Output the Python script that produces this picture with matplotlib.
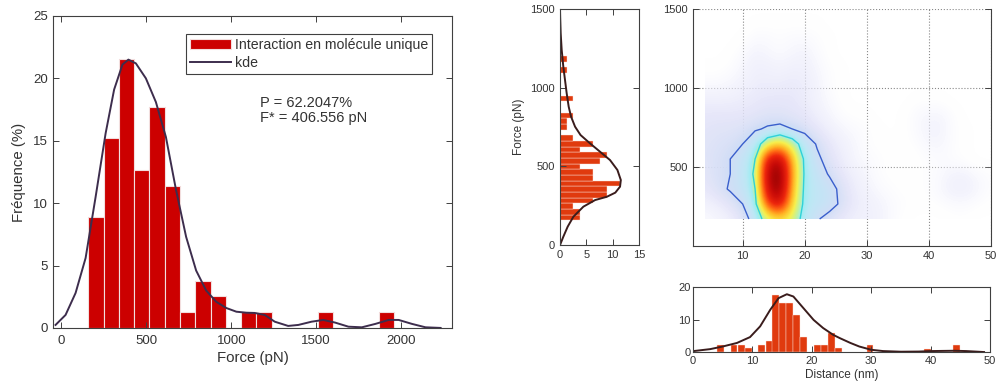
import numpy as np
import matplotlib
matplotlib.use('Agg')
import matplotlib.pyplot as plt
from matplotlib.colors import LinearSegmentedColormap
from matplotlib.patches import Rectangle

plt.rcParams['font.family'] = ['Liberation Sans', 'DejaVu Sans']

# ---- left panel : force histogram (bins of 90 pN) and kde ----
force_centres = [203, 293, 383, 473, 563, 653, 743, 833, 923, 1013,
                 1103, 1193, 1283, 1373, 1463, 1553, 1643, 1733, 1823, 1913]
force_freq = [8.86, 15.19, 21.52, 12.66, 17.72, 11.39, 1.27, 3.80, 2.53, 0,
              1.27, 1.27, 0, 0, 0, 1.27, 0, 0, 0, 1.27]
kde_force = [-35, 24, 83, 142, 201, 260, 310, 359, 394, 438, 497, 556, 615,
             674, 734, 793, 852, 911, 970, 1030, 1089, 1138, 1197, 1256,
             1335, 1395, 1473, 1542, 1611, 1690, 1769, 1848, 1927, 1986,
             2065, 2144, 2233]
kde_freq = [0.24, 1.04, 2.8, 5.6, 10.5, 15.6, 19.1, 21.1, 21.5, 21.2, 20.0,
            18.1, 15.3, 11.1, 7.3, 4.6, 3.0, 2.1, 1.6, 1.3, 1.22, 1.2, 1.04,
            0.5, 0.16, 0.24, 0.5, 0.64, 0.43, 0.1, 0.05, 0.32, 0.64, 0.64,
            0.32, 0.05, 0.0]

# ---- middle panel : force histogram (bins of 36 pN), horizontal ----
mid_centres = [176, 212, 248, 284, 320, 356, 392, 428, 464, 500, 536, 572,
               608, 644, 680, 716, 752, 788, 824, 860, 896, 932, 968, 1004,
               1040, 1076, 1112, 1148, 1184]
mid_freq = [3.80, 3.80, 2.53, 6.33, 8.86, 8.86, 11.39, 6.33, 6.33, 3.80,
            7.59, 8.86, 3.80, 6.33, 2.53, 0, 1.27, 1.27, 2.53, 0, 0, 2.53,
            0, 0, 0, 0, 1.27, 0, 1.27]
mid_kde_f = [0, 53, 117, 180, 244, 286, 307, 333, 371, 413, 477, 540, 593,
             646, 699, 752, 816, 879, 964, 1049, 1133, 1240, 1345, 1451, 1500]
mid_kde_v = [0, 0.63, 1.46, 2.54, 4.44, 6.67, 8.9, 10.5, 11.4, 11.55, 10.9,
             9.5, 7.6, 5.7, 3.9, 2.86, 2.1, 1.65, 1.27, 0.95, 0.63, 0.32,
             0.13, 0.03, 0.0]

# ---- bottom panel : distance histogram and kde ----
dist_centres = [4.6, 6.9, 8.1, 9.3, 11.6, 12.8, 13.9, 15.1, 16.3, 17.5,
                18.6, 21.0, 22.1, 23.3, 24.5, 29.8, 39.5, 44.4]
dist_freq = [2.2, 2.2, 2.2, 1.1, 2.2, 3.4, 17.6, 15.0, 15.0, 11.3, 4.6,
             2.2, 2.2, 5.9, 1.1, 2.2, 0.9, 2.2]
kde_dist = [0.1, 2.9, 5.1, 7.4, 9.6, 11.3, 13.0, 14.4, 15.8, 16.9, 18.6,
            20.3, 21.9, 23.6, 24.7, 26.5, 28, 30, 32, 35, 38, 40, 44, 46,
            48, 49]
kde_dist_v = [0.3, 0.9, 1.75, 2.8, 4.6, 7.9, 13.0, 16.6, 17.8, 17.1, 13.5,
              9.9, 7.4, 5.3, 4.3, 2.8, 1.7, 0.7, 0.3, 0.1, 0.15, 0.3, 0.4,
              0.3, 0.1, 0.0]

# ---- top right : 2D density sampled every 2 nm / 95 pN ----
dens_dist = [4, 6, 8, 10, 12, 14, 16, 18, 20, 22, 24, 26, 28, 30, 32, 34,
             36, 38, 40, 42, 44, 46, 48, 50]
dens_force = [170, 265, 360, 455, 550, 645, 740, 835, 930, 1025, 1120,
              1215, 1310, 1405, 1500]
density = [
    [3, 4, 6, 10, 20, 38, 45, 40, 24, 16, 11, 8, 6, 6, 5, 3, 1, 0, 0, 0, 1, 1, 0, 0],
    [5, 7, 10, 15, 26, 70, 85, 50, 26, 22, 19, 13, 8, 6, 5, 3, 2, 1, 1, 2, 3, 3, 2, 1],
    [9, 12, 16, 20, 30, 85, 98, 55, 27, 22, 19, 12, 7, 5, 3, 2, 1, 1, 2, 4, 6, 6, 4, 2],
    [10, 13, 15, 21, 32, 88, 100, 58, 28, 20, 14, 9, 6, 4, 2, 1, 1, 1, 2, 3, 5, 5, 3, 2],
    [11, 13, 15, 20, 30, 80, 90, 55, 27, 17, 11, 7, 4, 3, 2, 1, 0, 1, 2, 3, 2, 1, 0, 0],
    [11, 12, 13, 15, 22, 40, 50, 38, 22, 14, 9, 6, 4, 2, 1, 1, 1, 2, 4, 4, 2, 1, 0, 0],
    [10, 11, 11, 12, 14, 16, 17, 15, 12, 9, 6, 4, 3, 2, 1, 0, 1, 3, 5, 5, 2, 1, 0, 0],
    [9, 9, 9, 9, 10, 11, 11, 10, 9, 6, 4, 2, 1, 1, 0, 0, 1, 3, 4, 4, 2, 0, 0, 0],
    [6, 6, 6, 7, 8, 9, 9, 9, 7, 5, 3, 1, 0, 0, 0, 0, 0, 1, 1, 1, 0, 0, 0, 0],
    [3, 3, 4, 5, 7, 7, 7, 8, 7, 5, 2, 1, 0, 0, 0, 0, 0, 0, 0, 0, 0, 0, 0, 0],
    [1, 1, 2, 4, 6, 6, 5, 6, 6, 4, 2, 1, 0, 0, 0, 0, 0, 0, 0, 0, 0, 0, 0, 0],
    [0, 0, 1, 3, 5, 4, 3, 4, 5, 3, 1, 0, 0, 0, 0, 0, 0, 0, 0, 0, 0, 0, 0, 0],
    [0, 0, 0, 1, 3, 3, 2, 3, 3, 2, 1, 0, 0, 0, 0, 0, 0, 0, 0, 0, 0, 0, 0, 0],
    [0, 0, 0, 0, 1, 1, 1, 1, 1, 1, 0, 0, 0, 0, 0, 0, 0, 0, 0, 0, 0, 0, 0, 0],
    [0, 0, 0, 0, 0, 0, 0, 0, 0, 0, 0, 0, 0, 0, 0, 0, 0, 0, 0, 0, 0, 0, 0, 0],
]
contour_levels = [15, 30]
contour_colors = ['#3a5fcc', '#30d2d8']

txt = '#333333'
spine = '#404040'


def style(ax, fs):
    ax.tick_params(direction='in', top=True, right=True, length=4,
                   width=0.7, labelsize=fs, colors=spine, labelcolor=txt)
    for s in ax.spines.values():
        s.set_color(spine)
        s.set_linewidth(0.8)


fig = plt.figure(figsize=(10, 3.89), dpi=100)

# left
ax1 = fig.add_axes([0.053, 0.157, 0.399, 0.802])
bars = ax1.bar(force_centres, force_freq, width=90, color='#cc0000',
               edgecolor='#f2dede', linewidth=0.8)
line, = ax1.plot(kde_force, kde_freq, color='#3d2d4d', lw=1.4)
ax1.set_xlim(-50, 2300)
ax1.set_ylim(0, 25)
ax1.set_xticks([0, 500, 1000, 1500, 2000])
ax1.set_yticks([0, 5, 10, 15, 20, 25])
style(ax1, 9.5)
ax1.tick_params(axis='x', pad=5)
ax1.set_xlabel('Force (pN)', fontsize=10.8, color=txt, labelpad=3)
ax1.set_ylabel('Fréquence (%)', fontsize=10.8, color=txt, labelpad=5)
leg = ax1.legend([bars, line], ['Interaction en molécule unique', 'kde'],
                 loc='upper right', bbox_to_anchor=(0.95, 0.942),
                 borderaxespad=0, fancybox=False, fontsize=10.2,
                 handlelength=2.9, handletextpad=0.25, borderpad=0.3,
                 labelspacing=0.25, framealpha=1)
leg.get_frame().set_edgecolor(spine)
leg.get_frame().set_linewidth(0.8)
for t in leg.get_texts():
    t.set_color(txt)
ax1.text(1170, 18.6, 'P = 62.2047%\nF* = 406.556 pN', fontsize=10.5,
         color=txt, va='top', linespacing=1.1)

# middle
ax2 = fig.add_axes([0.560, 0.370, 0.079, 0.607])
ax2.barh(mid_centres, mid_freq, height=36, color='#e03a0e',
         edgecolor='#fbe3dc', linewidth=0.3)
ax2.plot(mid_kde_v, mid_kde_f, color='#3a1c1c', lw=1.4)
ax2.set_xlim(0, 15)
ax2.set_ylim(0, 1500)
ax2.set_xticks([0, 5, 10, 15])
ax2.set_yticks([0, 500, 1000, 1500])
style(ax2, 8)
ax2.set_ylabel('Force (pN)', fontsize=8.5, color=txt, labelpad=4)

# top right density
cmap = LinearSegmentedColormap.from_list('dens', [
    (0.00, (1.0, 1.0, 1.0, 0.0)),
    (0.04, (0.94, 0.94, 0.99, 0.6)),
    (0.09, (0.89, 0.89, 0.975, 0.85)),
    (0.15, (0.82, 0.87, 0.965, 1.0)),
    (0.24, (0.74, 0.91, 0.96, 1.0)),
    (0.30, (0.62, 0.93, 0.95, 1.0)),
    (0.36, (0.76, 0.95, 0.62, 1.0)),
    (0.44, (0.97, 0.94, 0.30, 1.0)),
    (0.54, (1.0, 0.72, 0.15, 1.0)),
    (0.64, (1.0, 0.42, 0.08, 1.0)),
    (0.74, (0.93, 0.15, 0.05, 1.0)),
    (0.86, (0.78, 0.04, 0.03, 1.0)),
    (1.00, (0.50, 0.0, 0.0, 1.0)),
])
ax3 = fig.add_axes([0.693, 0.368, 0.298, 0.609])
ax3.grid(True, ls=':', color='#888888', lw=0.8)
ax3.set_axisbelow(True)
im = ax3.imshow(np.array(density), origin='lower',
                extent=[3, 51, 122.5, 1547.5], cmap=cmap, vmin=0, vmax=100,
                interpolation='bicubic', aspect='auto', zorder=1)
im.set_clip_path(Rectangle((4, 170), 46, 1330, transform=ax3.transData))
ax3.contour(dens_dist, dens_force, np.array(density), levels=contour_levels,
            colors=contour_colors, linewidths=1.0, zorder=2)
ax3.set_xlim(2, 50)
ax3.set_ylim(0, 1500)
ax3.set_xticks([10, 20, 30, 40, 50])
ax3.set_yticks([500, 1000, 1500])
style(ax3, 8)
ax3.tick_params(top=False)
ax3.spines['top'].set_visible(False)

# bottom right
ax4 = fig.add_axes([0.693, 0.095, 0.297, 0.167])
ax4.bar(dist_centres, dist_freq, width=1.17, color='#e03a0e',
        edgecolor='#fbe3dc', linewidth=0.3)
ax4.plot(kde_dist, kde_dist_v, color='#3a1c1c', lw=1.4)
ax4.set_xlim(0, 50)
ax4.set_ylim(0, 20)
ax4.set_xticks([0, 10, 20, 30, 40, 50])
ax4.set_yticks([0, 10, 20])
style(ax4, 8)
ax4.tick_params(axis='x', pad=3)
ax4.tick_params(axis='y', pad=1.5)
ax4.set_xlabel('Distance (nm)', fontsize=8.5, color=txt, labelpad=2)

fig.savefig('out.png', dpi=100)
